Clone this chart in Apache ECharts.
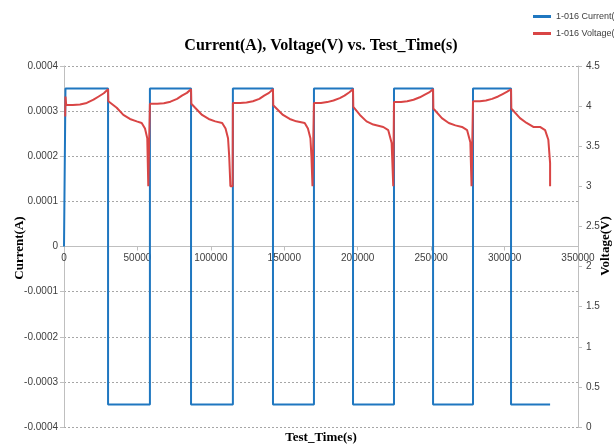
<!DOCTYPE html>
<html>
<head>
<meta charset="utf-8">
<script src="https://cdn.jsdelivr.net/npm/echarts@6/dist/echarts.min.js"></script>
<style>html,body{margin:0;padding:0;background:#fff}#c{width:614px;height:446px}</style>
</head>
<body>
<div id="c"></div>
<script>
// ---- data ----
const titleText = 'Current(A), Voltage(V) vs. Test_Time(s)';
const xName = 'Test_Time(s)';
const leftName = 'Current(A)';
const rightName = 'Voltage(V)';
const seriesNames = ['1-016 Current(A)', '1-016 Voltage(V)'];

// Current square wave: [time(s), current(A)]
const currentData = [
  [0, 0], [1000, 0], [1000, 0.00035], [30000, 0.00035],
  [30000, -0.00035], [58500, -0.00035], [58500, 0.00035], [86500, 0.00035],
  [86500, -0.00035], [115000, -0.00035], [115000, 0.00035], [142300, 0.00035],
  [142300, -0.00035], [170200, -0.00035], [170200, 0.00035], [196800, 0.00035],
  [196800, -0.00035], [224700, -0.00035], [224700, 0.00035], [251300, 0.00035],
  [251300, -0.00035], [278500, -0.00035], [278500, 0.00035], [304400, 0.00035],
  [304400, -0.00035], [331000, -0.00035]
];

// Voltage: [time(s), voltage(V)]
const voltageData = [
  // charge 1
  [800, 3.87], [1000, 4.12], [1500, 4.015], [6000, 4.015], [10900, 4.02], [15500, 4.04], [20100, 4.08], [23600, 4.12], [27100, 4.16], [30000, 4.21],
  // discharge 1
  [30200, 4.06], [31300, 4.05], [35900, 3.98], [40400, 3.89], [44900, 3.84], [49500, 3.81], [52900, 3.79], [55150, 3.72], [56700, 3.60], [57400, 3.00], [58300, 3.00],
  // charge 2
  [58500, 4.03], [63500, 4.03], [68000, 4.035], [72500, 4.055], [77000, 4.09], [80300, 4.13], [83700, 4.165], [86500, 4.21],
  // discharge 2
  [86700, 4.03], [89300, 3.98], [94000, 3.89], [98500, 3.84], [103000, 3.81], [107700, 3.79], [110000, 3.72], [111700, 3.60], [112500, 3.37], [113300, 3.00], [114800, 3.00],
  // charge 3
  [115000, 4.04], [119900, 4.04], [124300, 4.045], [128650, 4.06], [133000, 4.09], [136300, 4.13], [139600, 4.165], [142300, 4.21],
  // discharge 3
  [142500, 4.01], [149100, 3.89], [153700, 3.84], [158200, 3.81], [163900, 3.79], [166100, 3.72], [167800, 3.60], [168500, 3.37], [169200, 3.00], [170000, 3.00],
  // charge 4
  [170200, 4.04], [175000, 4.04], [179200, 4.05], [183500, 4.07], [187800, 4.10], [191000, 4.13], [194100, 4.17], [196800, 4.21],
  // discharge 4
  [197000, 3.99], [201500, 3.89], [206000, 3.81], [210600, 3.77], [217400, 3.74], [220800, 3.70], [223100, 3.54], [224200, 3.00], [224500, 3.00],
  // charge 5
  [224700, 4.05], [229500, 4.05], [233700, 4.06], [238000, 4.08], [242300, 4.11], [245400, 4.14], [248600, 4.17], [251300, 4.21],
  // discharge 5
  [251500, 3.97], [257300, 3.85], [262000, 3.79], [266500, 3.76], [271000, 3.74], [274500, 3.70], [276700, 3.55], [277500, 3.00], [278300, 3.00],
  // charge 6
  [278500, 4.06], [283200, 4.06], [287300, 4.07], [291500, 4.09], [295600, 4.12], [298700, 4.15], [301800, 4.18], [304400, 4.21],
  // discharge 6
  [304600, 3.97], [310500, 3.85], [315000, 3.79], [319600, 3.74], [324100, 3.74], [327600, 3.70], [329800, 3.58], [331000, 3.29], [331000, 3.00]
];

const xMin = 0, xMax = 350000, xStep = 50000;
const leftMin = -0.0004, leftMax = 0.0004, leftStep = 0.0001;
const rightMin = 0, rightMax = 4.5, rightStep = 0.5;

// ---- chart ----
const chart = echarts.init(document.getElementById('c'), null, {renderer: 'canvas'});
const axisColor = '#bfbfbf';
const labelColor = '#404040';
const labelFont = 'Liberation Sans';
const gridTop = 66, gridBottom = 19, chartH = 446;
const plotH = chartH - gridTop - gridBottom;
// x axis sits at current = 0 (middle of the left axis range)
const zeroOffset = -plotH * (0 - leftMin) / (leftMax - leftMin);
const nameFontBig = 'bold 16px "Liberation Serif"';
const nameFont = 'bold 13px "Liberation Serif"';

chart.setOption({
  animation: false,
  backgroundColor: '#ffffff',
  grid: {left: 64, right: 36, top: gridTop, bottom: gridBottom, containLabel: false, outerBoundsMode: 'none'},
  legend: {
    orient: 'vertical', left: 528, top: 7, itemGap: 8,
    itemWidth: 18, itemHeight: 3, icon: 'rect',
    textStyle: {fontFamily: labelFont, fontSize: 9, color: labelColor},
    data: seriesNames
  },
  graphic: [
    {type: 'text', x: 321, y: 46, style: {text: titleText, font: nameFontBig, fill: '#000', textAlign: 'center', textVerticalAlign: 'middle'}},
    {type: 'text', x: 321, y: 438, style: {text: xName, font: nameFont, fill: '#000', textAlign: 'center', textVerticalAlign: 'middle'}},
    {type: 'text', x: 20, y: 248, rotation: Math.PI / 2, style: {text: leftName, font: nameFont, fill: '#000', textAlign: 'center', textVerticalAlign: 'middle'}},
    {type: 'text', x: 606, y: 246, rotation: Math.PI / 2, style: {text: rightName, font: nameFont, fill: '#000', textAlign: 'center', textVerticalAlign: 'middle'}}
  ],
  xAxis: {
    type: 'value', min: xMin, max: xMax, interval: xStep,
    position: 'bottom', offset: zeroOffset,
    axisLine: {onZero: false, lineStyle: {color: axisColor, width: 1}},
    axisTick: {show: true, length: 4, lineStyle: {color: axisColor}},
    axisLabel: {fontFamily: labelFont, fontSize: 10, color: labelColor, margin: 7,
      formatter: v => String(v)},
    splitLine: {show: false}
  },
  yAxis: [
    {
      type: 'value', min: leftMin, max: leftMax, interval: leftStep,
      axisLine: {show: true, onZero: false, lineStyle: {color: axisColor}},
      axisTick: {show: true, length: 4, lineStyle: {color: axisColor}},
      axisLabel: {fontFamily: labelFont, fontSize: 10, color: labelColor, margin: 6,
        formatter: v => String(parseFloat(v.toFixed(4)))},
      splitLine: {show: true, lineStyle: {color: '#a6a6a6', type: [2, 2], width: 1}}
    },
    {
      type: 'value', min: rightMin, max: rightMax, interval: rightStep, position: 'right',
      axisLine: {show: true, onZero: false, lineStyle: {color: axisColor}},
      axisTick: {show: true, length: 4, lineStyle: {color: axisColor}},
      axisLabel: {fontFamily: labelFont, fontSize: 10, color: labelColor, margin: 8,
        formatter: v => String(parseFloat(v.toFixed(1)))},
      splitLine: {show: false}
    }
  ],
  series: [
    {
      name: seriesNames[0], type: 'line', yAxisIndex: 0, data: currentData,
      showSymbol: false, symbol: 'none', color: '#1f77c0',
      lineStyle: {width: 2, color: '#1f77c0'}
    },
    {
      name: seriesNames[1], type: 'line', yAxisIndex: 1, data: voltageData,
      showSymbol: false, symbol: 'none', color: '#d94545',
      lineStyle: {width: 2, color: '#d94545'}
    }
  ]
});
</script>
</body>
</html>
